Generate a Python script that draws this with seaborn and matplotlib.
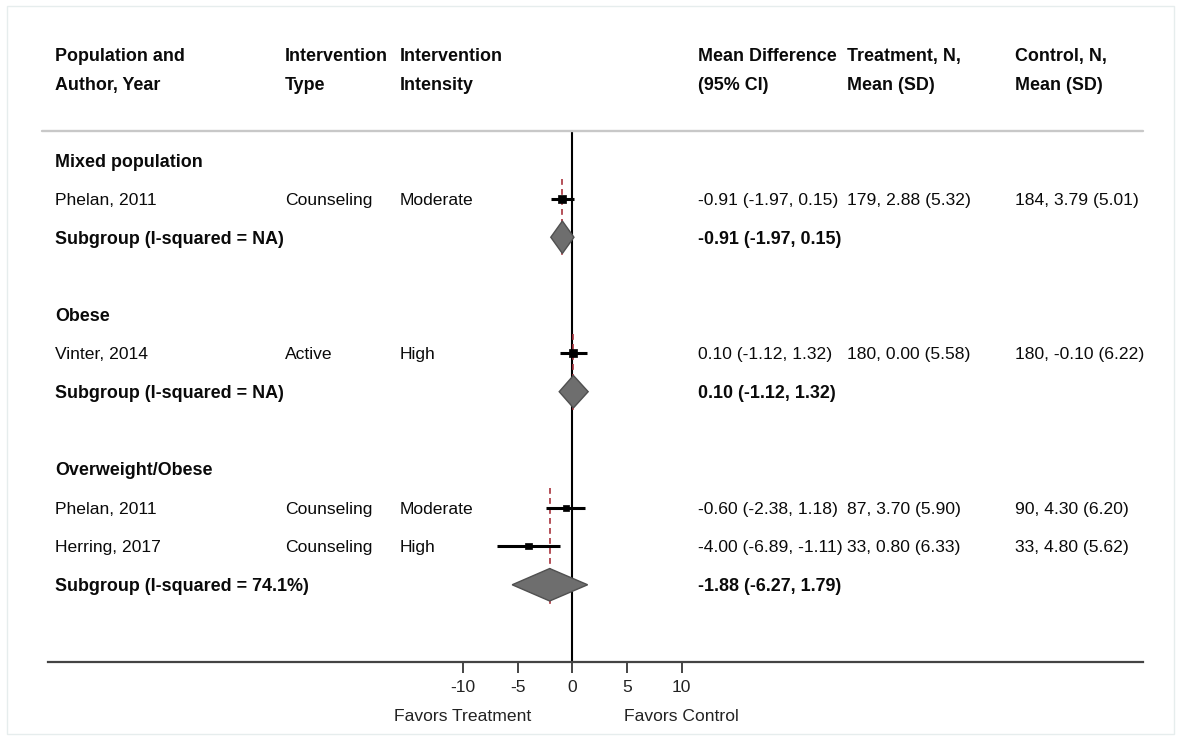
import numpy as np
import pandas as pd
import matplotlib
matplotlib.use("Agg")
import matplotlib.pyplot as plt
import seaborn as sns
from matplotlib.patches import Polygon, Rectangle
from matplotlib.lines import Line2D
import matplotlib.transforms as mtransforms

# ---------------- data ----------------
groups = ["Mixed population", "Obese", "Overweight/Obese"]
study_group = [0, 1, 2, 2]
study_names = ["Phelan, 2011", "Vinter, 2014", "Phelan, 2011", "Herring, 2017"]
study_type = ["Counseling", "Active", "Counseling", "Counseling"]
study_intensity = ["Moderate", "High", "Moderate", "High"]
study_md = [-0.91, 0.10, -0.60, -4.00]
study_lo = [-1.97, -1.12, -2.38, -6.89]
study_hi = [0.15, 1.32, 1.18, -1.11]
study_trt = ["179, 2.88 (5.32)", "180, 0.00 (5.58)", "87, 3.70 (5.90)", "33, 0.80 (6.33)"]
study_ctl = ["184, 3.79 (5.01)", "180, -0.10 (6.22)", "90, 4.30 (6.20)", "33, 4.80 (5.62)"]
study_weight = [8.0, 8.0, 6.0, 6.5]
sub_labels = ["Subgroup (I-squared = NA)", "Subgroup (I-squared = NA)",
              "Subgroup (I-squared = 74.1%)"]
sub_text = ["-0.91 (-1.97, 0.15)", "0.10 (-1.12, 1.32)", "-1.88 (-6.27, 1.79)"]
sub_md = [-0.91, 0.10, -2.07]
sub_lo = [-1.97, -1.20, -5.50]
sub_hi = [0.15, 1.45, 1.40]
xticks = [-10, -5, 0, 5, 10]
header_cols = [["Population and", "Author, Year"], ["Intervention", "Type"],
               ["Intervention", "Intensity"], ["Mean Difference", "(95% CI)"],
               ["Treatment, N,", "Mean (SD)"], ["Control, N,", "Mean (SD)"]]
favors = ["Favors Treatment", "Favors Control"]

# ---------------- layout ----------------
W, H = 1177, 736
sns.set_theme(style="white")
plt.rcParams["font.family"] = ["Liberation Sans", "DejaVu Sans"]
FS = 12.6
FSB = 12.9

fig = plt.figure(figsize=(W / 100, H / 100), dpi=100)
ax_l, ax_r, ax_t, ax_b = 48, 1143, 131, 662
ax = fig.add_axes([ax_l / W, 1 - ax_b / H, (ax_r - ax_l) / W, (ax_b - ax_t) / H])

# row assignment
r = 0
group_rows, study_rows, sub_rows = [], [], []
for g in range(len(groups)):
    group_rows.append(r); r += 1
    for i, sg in enumerate(study_group):
        if sg == g:
            study_rows.append(r); r += 1
    sub_rows.append(r); r += 1
    r += 1

df = pd.DataFrame({"md": study_md, "lo": study_lo, "hi": study_hi,
                   "row": study_rows, "w": study_weight})

ax.set_xlim(-47.95, 52.19)
ax.set_ylim(13.0, -0.751)

# zero line
ax.axvline(0, color="black", lw=1.5, zorder=1)

# red dashed subgroup lines
for g in range(len(groups)):
    first = min(study_rows[i] for i, sg in enumerate(study_group) if sg == g)
    ax.vlines(sub_md[g], first - 0.5, sub_rows[g] + 0.5, colors="#a8323c",
              linestyles=(0, (3.5, 2.5)), lw=1.2, zorder=2)

# CI lines
ax.hlines(df["row"], df["lo"], df["hi"], colors="black", lw=2.2, zorder=3)
# squares
sns.scatterplot(data=df, x="md", y="row", marker="s", color="black",
                s=(df["w"] * 0.72) ** 2, edgecolor="black", linewidth=0.5,
                legend=False, ax=ax, zorder=4)

# diamonds
for g in range(len(groups)):
    y = sub_rows[g]
    poly = Polygon([[sub_lo[g], y], [sub_md[g], y - 0.42], [sub_hi[g], y],
                    [sub_md[g], y + 0.42]], closed=True, facecolor="#6e6e6e",
                   edgecolor="#505050", lw=1.0, zorder=4)
    ax.add_patch(poly)

# axes style
for s in ["top", "left", "right"]:
    ax.spines[s].set_visible(False)
ax.spines["bottom"].set_color("#444444")
ax.spines["bottom"].set_linewidth(1.6)
ax.set_yticks([])
ax.set_xticks(xticks)
ax.set_xticklabels([str(t) for t in xticks], fontsize=FS, color="#222222")
ax.tick_params(axis="x", direction="out", length=8, width=1.4, color="#444444",
               pad=5, bottom=True)
ax.set_xlabel("")
ax.set_ylabel("")
ax.patch.set_alpha(0)

# header line
fig.add_artist(Line2D([42 / W, 1143 / W], [1 - 131 / H, 1 - 131 / H],
                      color="#c8c8c8", lw=1.7))
# frame
fig.add_artist(Rectangle((7 / W, 1 - 734 / H), (1174 - 7) / W, (734 - 6) / H,
                         fill=False, edgecolor="#e6eded", lw=1.0))

tr = mtransforms.blended_transform_factory(fig.transFigure, ax.transData)
col_x = [55, 285, 400, 698, 847, 1015]
TXT = "#0a0a0a"

def put(xpx, row, s, bold=False):
    ax.text(xpx / W, row, s, transform=tr, fontsize=FSB if bold else FS, color=TXT,
            fontweight="bold" if bold else "normal", ha="left",
            va="center_baseline", clip_on=False)

# headers
for cx, (l1, l2) in zip(col_x, header_cols):
    put(cx, (55 - 160) / 38.6, l1, bold=True)
    put(cx, (84 - 160) / 38.6, l2, bold=True)

for g in range(len(groups)):
    put(col_x[0], group_rows[g], groups[g], bold=True)
    put(col_x[0], sub_rows[g], sub_labels[g], bold=True)
    put(col_x[3], sub_rows[g], sub_text[g], bold=True)

for i in range(len(study_names)):
    rr = study_rows[i]
    put(col_x[0], rr, study_names[i])
    put(col_x[1], rr, study_type[i])
    put(col_x[2], rr, study_intensity[i])
    put(col_x[3], rr, f"{study_md[i]:.2f} ({study_lo[i]:.2f}, {study_hi[i]:.2f})")
    put(col_x[4], rr, study_trt[i])
    put(col_x[5], rr, study_ctl[i])

# favors labels
trf = mtransforms.blended_transform_factory(ax.transData, fig.transFigure)
ax.text(xticks[0], 1 - 715 / H, favors[0], transform=trf, ha="center",
        va="center_baseline", fontsize=FS, color="#222222", clip_on=False)
ax.text(xticks[-1], 1 - 715 / H, favors[1], transform=trf, ha="center",
        va="center_baseline", fontsize=FS, color="#222222", clip_on=False)

fig.savefig("out.png", dpi=100, facecolor="white")
